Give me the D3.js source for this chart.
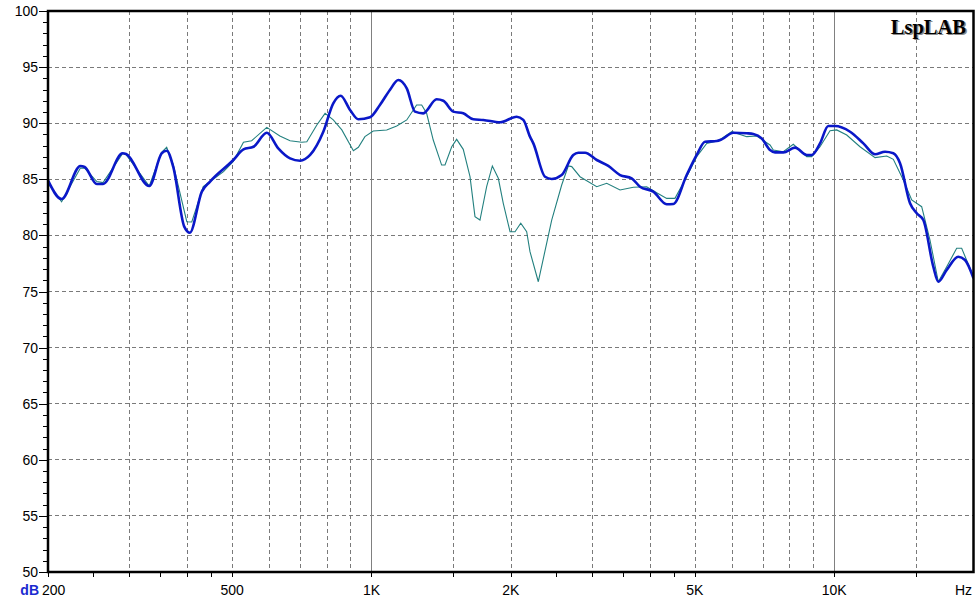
<!DOCTYPE html>
<html><head><meta charset="utf-8">
<script src="https://cdn.jsdelivr.net/npm/d3@7"></script>
<style>html,body{margin:0;padding:0;background:#fff;} svg{display:block;}</style>
</head><body><svg id="c" width="979" height="602"></svg>
<script>
// Blue (thick) response
const blueFreq = [200,214,235,240,255,263,290,295,331,352,361,373,394,405,430,448,503,529,556,594,629,667,701,737,787,827,858,899,937,993,1043,1096,1143,1192,1242,1294,1383,1430,1503,1579,1660,1745,1896,2060,2129,2201,2238,2372,2452,2577,2730,2799,2894,3068,3250,3445,3651,3805,4065,4345,4490,4800,5045,5258,5573,5714,6055,6470,6686,6972,7266,7449,7763,8228,8722,8941,9318,9711,10040,10823,11561,12254,12878,13421,13876,14584,15078,15581,16375,16787,17503,18542,19171,20000];
const blueDb = [84.9,83.24,86.19,86.1,84.58,84.58,87.32,87.25,84.4,87.3,87.55,86.1,80.78,80.24,83.9,84.8,86.72,87.67,87.9,89.15,87.76,86.87,86.66,87.17,89.24,91.77,92.45,91.18,90.35,90.53,91.62,92.96,93.85,93.1,91.03,90.88,92.13,92.0,91.03,90.88,90.35,90.29,90.08,90.58,90.29,88.8,88.2,85.23,85.03,85.38,87.17,87.37,87.37,86.72,86.19,85.38,85.09,84.34,83.9,82.77,82.8,85.38,87.17,88.35,88.41,88.56,89.15,89.1,89.04,88.65,87.61,87.4,87.4,87.82,87.17,87.17,88.2,89.75,89.75,89.24,88.2,87.23,87.46,87.32,86.43,82.86,81.97,81.37,77.21,75.87,76.92,78.1,77.81,76.18];
// Teal (thin) response
const tealFreq = [200,214,235,240,255,263,290,295,331,352,361,373,399,409,433,448,479,503,529,551,594,634,667,707,725,762,794,827,863,914,937,968,1009,1079,1134,1192,1252,1284,1316,1360,1418,1442,1491,1528,1579,1633,1674,1716,1774,1825,1880,1927,1993,2043,2102,2165,2201,2294,2452,2577,2663,2709,2823,3068,3224,3445,3681,3933,4134,4345,4528,4800,5045,5303,5618,6007,6470,6800,7266,7386,7763,8159,8722,8941,9318,9794,10125,10643,11370,12254,12988,13421,14105,14707,15454,16106,16787,17503,18395,18858,20000];
const tealDb = [84.64,83.0,86.0,86.0,84.8,84.7,87.3,87.2,84.4,87.4,87.85,86.3,81.22,81.2,84.34,84.8,85.68,86.6,88.3,88.44,89.63,88.86,88.44,88.3,88.35,89.84,90.88,90.29,89.4,87.55,87.85,88.8,89.3,89.4,89.75,90.29,91.62,91.62,90.88,88.5,86.27,86.27,87.9,88.56,87.67,85.23,81.67,81.37,84.34,86.19,85.09,82.86,80.33,80.33,81.08,80.33,78.55,75.87,81.37,84.49,86.19,86.13,85.23,84.34,84.64,84.05,84.29,84.34,83.8,83.3,83.3,85.23,87.02,88.2,88.44,89.24,88.8,88.86,88.06,87.61,87.46,88.12,87.02,87.02,87.9,89.33,89.4,88.95,87.9,86.93,87.08,86.78,84.94,83.16,82.56,79.59,75.87,77.21,78.85,78.85,76.32];

const yMajor = [50,55,60,65,70,75,80,85,90,95,100];
const yGrid = [55,60,65,70,75,80,85,90,95];
const xDashed = [300,400,500,600,700,800,900,1500,2000,3000,4000,5000,6000,7000,8000,9000,15000];
const xSolid = [1000,10000];
const xTickBelow = [200,250,300,350,400,450,500,1000,1500,2000,2500,3000,3500,4000,4500,5000,10000,15000];
const xLabelFreq = [500,1000,2000,5000,10000];
const xLabelText = ["500","1K","2K","5K","10K"];

const svg = d3.select("#c");
const L=48,R=973.5,T=11,B=572;
const x = d3.scaleLog().domain([200,20000]).range([L,R]);
const y = d3.scaleLinear().domain([50,100]).range([B,T]);
const font = "'Liberation Sans', Arial, sans-serif";

svg.append("rect").attr("width",979).attr("height",602).attr("fill","#fff");

// grid
const g = svg.append("g");
g.selectAll(".hg").data(yGrid).enter().append("line")
  .attr("x1",L).attr("x2",R).attr("y1",d=>y(d)).attr("y2",d=>y(d))
  .attr("stroke","#7a7a7a").attr("stroke-width",1).attr("stroke-dasharray","4,3").attr("shape-rendering","crispEdges");
g.selectAll(".vg").data(xDashed).enter().append("line")
  .attr("x1",d=>Math.round(x(d))+0.5).attr("x2",d=>Math.round(x(d))+0.5).attr("y1",T).attr("y2",B)
  .attr("stroke","#7a7a7a").attr("stroke-width",1).attr("stroke-dasharray","4,3");
g.selectAll(".vs").data(xSolid).enter().append("line")
  .attr("x1",d=>Math.round(x(d))+0.5).attr("x2",d=>Math.round(x(d))+0.5).attr("y1",T).attr("y2",B)
  .attr("stroke","#808080").attr("stroke-width",1);

// curves
svg.append("clipPath").attr("id","cp").append("rect").attr("x",L).attr("y",T).attr("width",R-L).attr("height",B-T);
const line = d3.line().x(d=>x(d[0])).y(d=>y(d[1]));
svg.append("path").datum(tealFreq.map((f,i)=>[f,tealDb[i]]))
  .attr("clip-path","url(#cp)").attr("d",line.curve(d3.curveLinear))
  .attr("fill","none").attr("stroke","#23807f").attr("stroke-width",1.1);
svg.append("path").datum(blueFreq.map((f,i)=>[f,blueDb[i]]))
  .attr("clip-path","url(#cp)").attr("d",line.curve(d3.curveMonotoneX))
  .attr("fill","none").attr("stroke","#0a18c8").attr("stroke-width",2.6).attr("stroke-linejoin","round");

// frame
svg.append("rect").attr("x",L).attr("y",T).attr("width",R-L).attr("height",B-T)
  .attr("fill","none").attr("stroke","#000").attr("stroke-width",2.5);

// y ticks
const yMinor = d3.range(50,101,1);
svg.selectAll(".ym").data(yMinor).enter().append("line")
  .attr("x1",d=>d%5===0?39:43).attr("x2",L).attr("y1",d=>Math.round(y(d))+0.5).attr("y2",d=>Math.round(y(d))+0.5)
  .attr("stroke","#000").attr("stroke-width",1);
svg.selectAll(".yl").data(yMajor).enter().append("text")
  .attr("x",38).attr("y",d=>y(d)).attr("dy","0.36em").attr("text-anchor","end")
  .attr("font-family",font).attr("font-size",14).attr("fill","#000").text(d=>d);

// x ticks
svg.selectAll(".xt").data(xTickBelow).enter().append("line")
  .attr("x1",d=>Math.round(x(d))+0.5).attr("x2",d=>Math.round(x(d))+0.5).attr("y1",B).attr("y2",B+5)
  .attr("stroke","#000").attr("stroke-width",1);
svg.selectAll(".xl").data(xLabelFreq).enter().append("text")
  .attr("x",d=>x(d)).attr("y",595).attr("text-anchor","middle")
  .attr("font-family",font).attr("font-size",14).attr("fill","#000").text((d,i)=>xLabelText[i]);
svg.append("text").attr("x",42).attr("y",595).attr("font-family",font).attr("font-size",14).attr("fill","#000").text("200");
svg.append("text").attr("x",39).attr("y",595).attr("text-anchor","end").attr("font-family",font).attr("font-size",14)
  .attr("font-weight","bold").attr("fill","#1a2ad0").text("dB");
svg.append("text").attr("x",972).attr("y",595).attr("text-anchor","end").attr("font-family",font).attr("font-size",14).attr("fill","#000").text("Hz");

// brand
const serif = "'Liberation Serif', 'Times New Roman', serif";
svg.append("text").attr("x",967.5).attr("y",35).attr("text-anchor","end").attr("font-family",serif)
  .attr("font-size",20.5).attr("font-weight","bold").attr("fill","#8a8a8a").text("LspLAB");
svg.append("text").attr("x",966).attr("y",33.5).attr("text-anchor","end").attr("font-family",serif)
  .attr("font-size",20.5).attr("font-weight","bold").attr("fill","#000").text("LspLAB");
</script></body></html>
